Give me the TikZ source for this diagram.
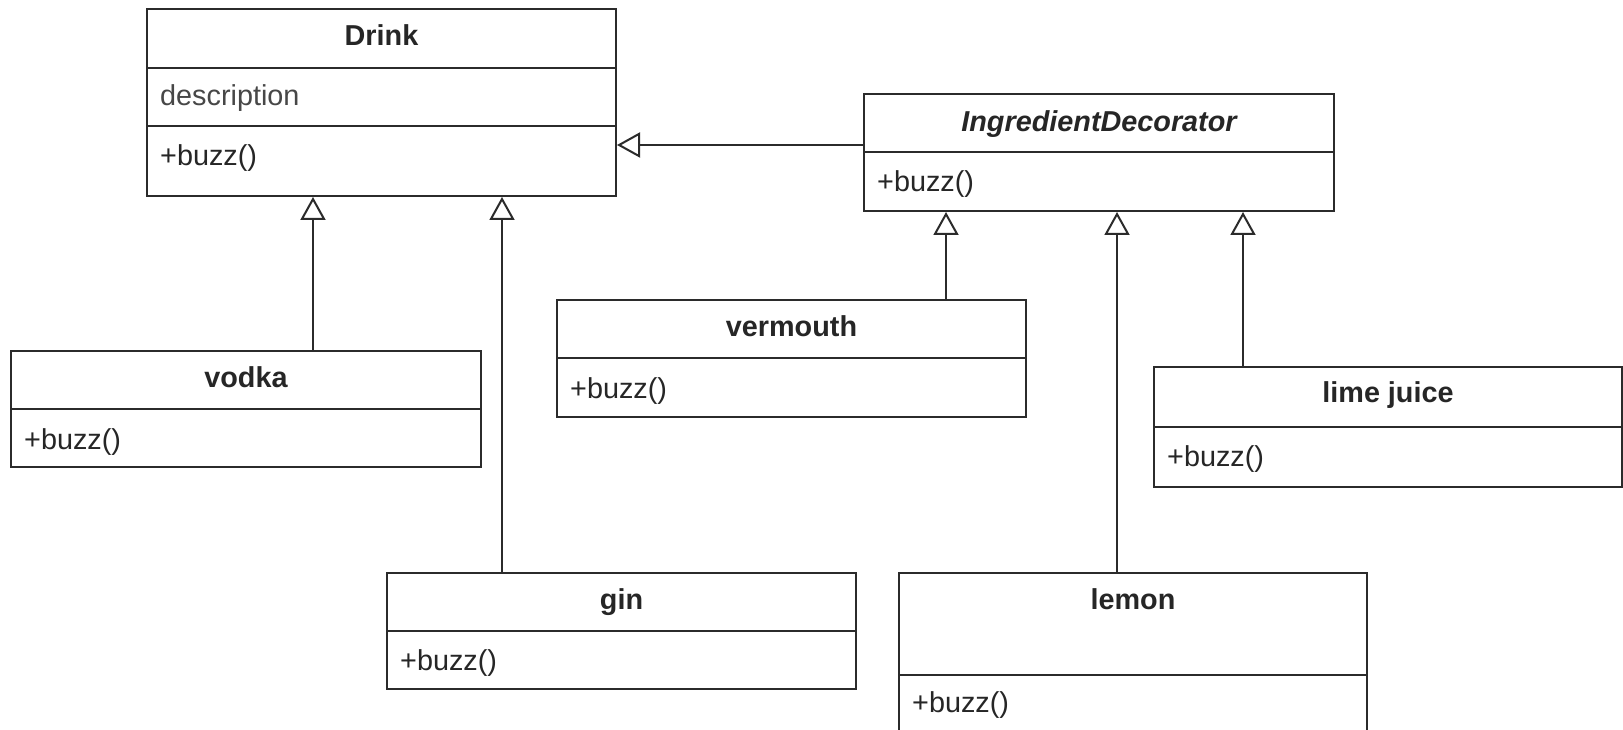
\documentclass[tikz,border=0pt]{standalone}
\usepackage{fontspec}
\setmainfont{Liberation Sans}
\usetikzlibrary{arrows.meta,fit,calc}
\definecolor{linec}{HTML}{2B2B2B}
\definecolor{textc}{HTML}{262626}
\begin{document}
\begin{tikzpicture}[x=1pt,y=-1pt,
  box/.style={draw=linec, line width=2pt, fill=white, inner sep=0pt},
  title/.style={font=\fontsize{28.8}{34}\selectfont\bfseries, text=textc, inner sep=0pt, anchor=base},
  member/.style={font=\fontsize{28.8}{34}\selectfont, text=textc, inner sep=0pt, anchor=base west},
  rule/.style={draw=linec, line width=2pt},
  inherit/.style={draw=linec, line width=2pt,
    -{Triangle[open, fill=white, length=23pt, width=25pt]}}]
\useasboundingbox (0,0) rectangle (1623,730);
\fill[white] (0,0) rectangle (1623,730);
\clip (0,0) rectangle (1623,730);

% class boxes
\node[box, fit={(147,9) (616,196)}] (drink) {};
\node[box, fit={(864,94) (1334,211)}] (deco) {};
\node[box, fit={(11,351) (481,467)}] (vodka) {};
\node[box, fit={(387,573) (856,689)}] (gin) {};
\node[box, fit={(557,300) (1026,417)}] (vermouth) {};
\node[box, fit={(1154,367) (1622,487)}] (lime) {};
\node[box, fit={(899,573) (1367,770)}] (lemon) {};

% compartment rules
\draw[rule] (drink.west |- 0,68) -- (drink.east |- 0,68);
\draw[rule] (drink.west |- 0,126) -- (drink.east |- 0,126);
\draw[rule] (deco.west |- 0,152) -- (deco.east |- 0,152);
\draw[rule] (vodka.west |- 0,409) -- (vodka.east |- 0,409);
\draw[rule] (gin.west |- 0,631) -- (gin.east |- 0,631);
\draw[rule] (vermouth.west |- 0,358) -- (vermouth.east |- 0,358);
\draw[rule] (lime.west |- 0,427) -- (lime.east |- 0,427);
\draw[rule] (lemon.west |- 0,675) -- (lemon.east |- 0,675);

% class names
\node[title] (drinkname) at ($(drink.north)+(0,37.5)$) {Drink};
\node[title, font=\fontsize{28.8}{34}\selectfont\bfseries\itshape] (deconame) at ($(deco.north)+(0,38.5)$) {IngredientDecorator};
\node[title] (vodkaname) at ($(vodka.north)+(0,37.5)$) {vodka};
\node[title] (ginname) at ($(gin.north)+(0,37.5)$) {gin};
\node[title] (vermouthname) at ($(vermouth.north)+(0,37)$) {vermouth};
\node[title] (limename) at ($(lime.north)+(0,36.5)$) {lime juice};
\node[title] (lemonname) at ($(lemon.north)+(0,37)$) {lemon};

% members
\node[member, text=textc!85] (drinkattr) at (160,106) {description};
\node[member] (drinkop) at (160,165.5) {+buzz()};
\node[member] (decoop) at (877,191.5) {+buzz()};
\node[member] (vodkaop) at (24,449) {+buzz()};
\node[member] (ginop) at (400,670) {+buzz()};
\node[member] (vermouthop) at (570,398) {+buzz()};
\node[member] (limeop) at (1167,466.5) {+buzz()};
\node[member] (lemonop) at (912,712) {+buzz()};

% attachment columns for the generalisation lines
\coordinate (cvodka) at (313,0);
\coordinate (cgin) at (502,0);
\coordinate (cverm) at (946,0);
\coordinate (clemon) at (1117,0);
\coordinate (clime) at (1243,0);
\coordinate (rdeco) at (0,145);

% generalisations
\draw[inherit] (deco.west |- rdeco) -- (drink.east |- rdeco);
\draw[inherit] (vodka.north -| cvodka) -- (drink.south -| cvodka);
\draw[inherit] (gin.north -| cgin) -- (drink.south -| cgin);
\draw[inherit] (vermouth.north -| cverm) -- (deco.south -| cverm);
\draw[inherit] (lemon.north -| clemon) -- (deco.south -| clemon);
\draw[inherit] (lime.north -| clime) -- (deco.south -| clime);
\end{tikzpicture}
\end{document}
